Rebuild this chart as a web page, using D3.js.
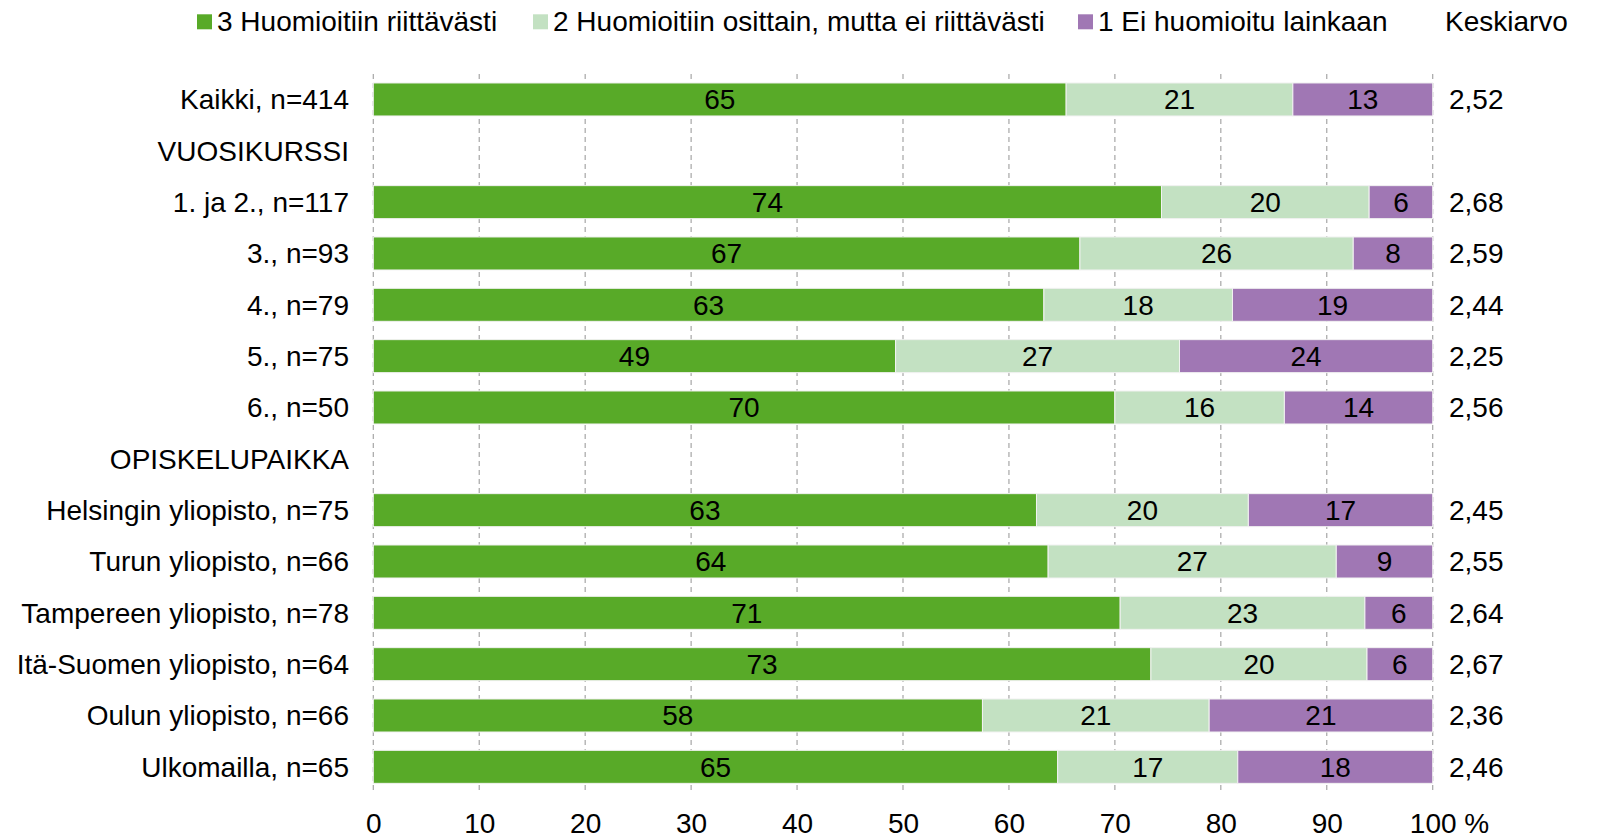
<!DOCTYPE html>
<html>
<head>
<meta charset="utf-8">
<script src="https://cdn.jsdelivr.net/npm/d3@7"></script>
<style>
  html, body { margin: 0; padding: 0; background: #fff; }
  svg { display: block; font-family: "Liberation Sans", Arial, sans-serif; }
</style>
</head>
<body>
<svg id="chart" width="1600" height="839"></svg>
<script>
// ---- data ----
const categories = ["Kaikki, n=414", "VUOSIKURSSI", "1. ja 2., n=117", "3., n=93", "4., n=79", "5., n=75", "6., n=50",
  "OPISKELUPAIKKA", "Helsingin yliopisto, n=75", "Turun yliopisto, n=66", "Tampereen yliopisto, n=78",
  "Itä-Suomen yliopisto, n=64", "Oulun yliopisto, n=66", "Ulkomailla, n=65"];
const seriesNames = ["3 Huomioitiin riittävästi", "2 Huomioitiin osittain, mutta ei riittävästi", "1 Ei huomioitu lainkaan"];
const s3 = [65.4, null, 74.4, 66.7, 63.3, 49.3, 70.0, null, 62.6, 63.7, 70.5, 73.4, 57.5, 64.6];
const s2 = [21.4, null, 19.6, 25.8, 17.8, 26.8, 16.0, null, 20.0, 27.2, 23.1, 20.4, 21.4, 17.0];
const s1 = [13.2, null, 6.0, 7.5, 18.9, 23.9, 14.0, null, 17.4, 9.1, 6.4, 6.2, 21.1, 18.4];
const means = ["2,52", "", "2,68", "2,59", "2,44", "2,25", "2,56", "", "2,45", "2,55", "2,64", "2,67", "2,36", "2,46"];
const meanTitle = "Keskiarvo";
const xTicks = [0, 10, 20, 30, 40, 50, 60, 70, 80, 90, 100];
const colors = ["#58AA28", "#C3E1C2", "#A077B4"];

// ---- layout ----
const svg = d3.select("#chart");
const FS = 28;
const x = d3.scaleLinear().domain([0, 100]).range([373.3, 1432.7]);
const y = d3.scaleBand().domain(categories).range([73.8, 792.5]).paddingInner(0.357).paddingOuter(0.1785);

svg.append("rect").attr("width", 1600).attr("height", 839).attr("fill", "#fff");

// gridlines
svg.append("g").selectAll("line").data(xTicks).join("line")
  .attr("x1", d => x(d)).attr("x2", d => x(d))
  .attr("y1", 74).attr("y2", 792)
  .attr("stroke", "#A6A6A6").attr("stroke-width", 1.2)
  .attr("stroke-dasharray", "5,4");

// stack
const rows = categories.map((c, i) => ({ cat: c, v: [s3[i], s2[i], s1[i]] }))
  .filter(r => r.v[0] !== null);
const segs = [];
rows.forEach(r => {
  let acc = 0;
  r.v.forEach((v, k) => { segs.push({ cat: r.cat, k, x0: acc, x1: acc + v, v }); acc += v; });
});

svg.append("g").selectAll("rect").data(segs).join("rect")
  .attr("x", d => x(d.x0)).attr("width", d => x(d.x1) - x(d.x0))
  .attr("y", d => y(d.cat)).attr("height", y.bandwidth())
  .attr("fill", d => colors[d.k])
  .attr("stroke", "#F2F2F2").attr("stroke-width", 1);

svg.append("g").selectAll("text").data(segs).join("text")
  .attr("x", d => (x(d.x0) + x(d.x1)) / 2)
  .attr("y", d => y(d.cat) + y.bandwidth() / 2)
  .attr("dy", "0.35em").attr("text-anchor", "middle")
  .attr("font-size", FS).attr("fill", "#000")
  .text(d => Math.round(d.v));

// category labels
svg.append("g").selectAll("text").data(categories).join("text")
  .attr("x", 349).attr("y", d => y(d) + y.bandwidth() / 2)
  .attr("dy", "0.35em").attr("text-anchor", "end")
  .attr("font-size", FS).attr("fill", "#000")
  .text(d => d);

// means
svg.append("g").selectAll("text").data(categories).join("text")
  .attr("x", 1449).attr("y", d => y(d) + y.bandwidth() / 2)
  .attr("dy", "0.35em").attr("text-anchor", "start")
  .attr("font-size", FS).attr("fill", "#000")
  .text((d, i) => means[i]);

// x axis
const axis = svg.append("g").attr("transform", "translate(0,792)")
  .call(d3.axisBottom(x).tickValues(xTicks).tickSize(0).tickPadding(0).tickFormat(d3.format("d")));
axis.select(".domain").remove();
axis.selectAll("text").attr("font-size", FS).attr("fill", "#000")
  .attr("font-family", "Liberation Sans, Arial, sans-serif")
  .attr("y", 31).attr("dy", "0.35em");
axis.selectAll(".tick").filter(d => d === 100).select("text").each(function () {
  const t = d3.select(this);
  const w = this.getComputedTextLength();
  t.attr("text-anchor", "start").attr("x", -w / 2);
  t.append("tspan").text(" %");
});

// legend
const legX = [197, 533, 1078];
const leg = svg.append("g").selectAll("g").data(seriesNames).join("g")
  .attr("transform", (d, i) => `translate(${legX[i]},0)`);
leg.append("rect").attr("x", 0).attr("y", 14.3).attr("width", 15).attr("height", 15)
  .attr("fill", (d, i) => colors[i]);
leg.append("text").attr("x", 20).attr("y", 31).attr("font-size", FS).attr("fill", "#000").text(d => d);
svg.append("text").attr("x", 1445).attr("y", 31).attr("font-size", FS).attr("fill", "#000").text(meanTitle);
</script>
</body>
</html>
